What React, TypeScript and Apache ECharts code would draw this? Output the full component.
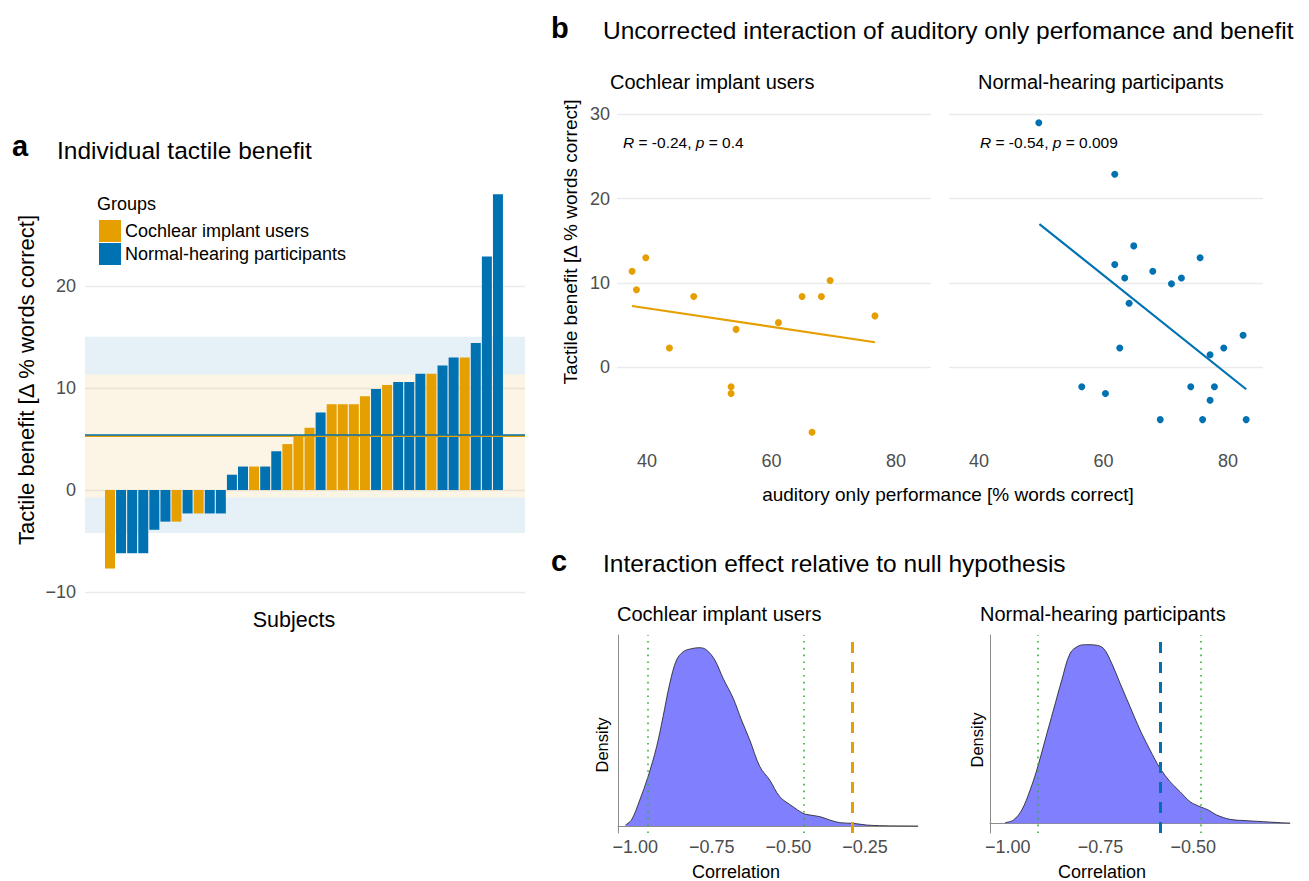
import React, { useEffect, useRef } from 'react';
import * as echarts from 'echarts';

const CI_COLOR = '#E69F00';
const NH_COLOR = '#0072B2';
const FONT = '"Liberation Sans", Arial, Helvetica, sans-serif';
const TICK_COLOR = '#4d4d4d';

const groupNames = ['Cochlear implant users', 'Normal-hearing participants'];

// Panel a: individual tactile benefit (sorted)
const barValues = [-7.7, -6.2, -6.2, -6.2, -3.9, -3.1, -3.1, -2.3, -2.3, -2.3, -2.3, 1.5, 2.3, 2.3, 2.3, 3.8, 4.5, 5.3, 6.1, 7.6, 8.4, 8.4, 8.4, 9.2, 9.9, 10.3, 10.6, 10.6, 11.4, 11.4, 12.2, 13.0, 13.0, 14.4, 22.9, 29.0];
const barGroups = ['CI', 'NH', 'NH', 'NH', 'NH', 'NH', 'CI', 'NH', 'CI', 'NH', 'NH', 'NH', 'NH', 'CI', 'NH', 'NH', 'CI', 'CI', 'CI', 'NH', 'CI', 'CI', 'CI', 'CI', 'NH', 'CI', 'NH', 'NH', 'NH', 'CI', 'NH', 'NH', 'CI', 'NH', 'NH', 'NH'];
const aTicks = [-10, 0, 10, 20];

// Panel b: auditory-only performance vs benefit
const ciAud = [37.6, 38.3, 39.8, 47.5, 43.6, 53.5, 53.5, 54.3, 61.1, 64.9, 68.0, 69.4, 66.5, 76.6];
const ciBen = [11.4, 9.2, 13.0, 8.4, 2.3, -2.3, -3.1, 4.5, 5.3, 8.4, 8.4, 10.3, -7.7, 6.1];
const nhAud = [49.6, 61.8, 64.85, 61.8, 63.4, 64.1, 67.9, 70.9, 72.5, 75.5, 62.6, 77.1, 79.3, 82.4, 56.5, 60.3, 74.0, 77.8, 77.1, 69.1, 75.9, 82.9];
const nhBen = [29.0, 22.9, 14.4, 12.2, 10.6, 7.6, 11.4, 9.9, 10.6, 13.0, 2.3, 1.5, 2.3, 3.8, -2.3, -3.1, -2.3, -2.3, -3.9, -6.2, -6.2, -6.2];
const ciFitX = [37.6, 76.6];
const ciFitY = [7.27, 2.97];
const nhFitX = [49.7, 82.9];
const nhFitY = [16.99, -2.6];
const ciStatText = ['-0.24', '0.4'];
const nhStatText = ['-0.54', '0.009'];
const bTicks = [0, 10, 20, 30];
const bXTicks = [40, 60, 80];

// Panel c: null distributions of correlation
const ciDensX = [-1.0315, -1.012, -0.985, -0.958, -0.930, -0.909, -0.887, -0.865, -0.843, -0.816, -0.789, -0.767, -0.740, -0.713, -0.680, -0.653, -0.626, -0.593, -0.561, -0.528, -0.485, -0.452, -0.430, -0.397, -0.365, -0.332, -0.289, -0.245, -0.202, -0.077];
const ciDensY = [0.03, 0.18, 0.78, 1.48, 2.38, 3.28, 4.28, 4.98, 5.23, 5.32, 5.35, 5.28, 4.98, 4.43, 3.83, 3.18, 2.58, 1.78, 1.38, 0.88, 0.58, 0.38, 0.33, 0.28, 0.18, 0.10, 0.08, 0.03, 0.01, 0.0];
const nhDensX = [-1.0072, -0.9847, -0.9623, -0.9398, -0.9218, -0.8994, -0.8769, -0.8544, -0.8320, -0.8095, -0.7871, -0.7646, -0.7421, -0.7197, -0.6972, -0.6703, -0.6433, -0.6164, -0.5894, -0.5624, -0.5355, -0.5085, -0.4816, -0.4591, -0.4367, -0.4007, -0.3558, -0.3109, -0.2659, -0.2390];
const nhDensY = [0.02, 0.10, 0.40, 1.00, 1.60, 2.50, 3.40, 4.30, 5.10, 5.32, 5.36, 5.35, 5.25, 4.80, 4.20, 3.50, 2.80, 2.20, 1.65, 1.25, 0.95, 0.65, 0.50, 0.40, 0.25, 0.12, 0.08, 0.05, 0.02, 0.01];
const ciCI = [-0.956, -0.451];
const nhCI = [-0.924, -0.483];
const ciObserved = -0.295;
const nhObserved = -0.587;
const ciCTicks = [-1, -0.75, -0.5, -0.25];
const nhCTicks = [-1, -0.75, -0.5];

const mean = (a: number[]) => a.reduce((s, v) => s + v, 0) / a.length;
const sd = (a: number[]) => {
  const m = mean(a);
  return Math.sqrt(a.reduce((s, v) => s + (v - m) * (v - m), 0) / (a.length - 1));
};

const minusFmt = (d: number) => (v: number) => (v < 0 ? '\u2212' + Math.abs(v).toFixed(d) : v.toFixed(d));

function txt(x: number, y: number, text: string, size: number, opts: any = {}) {
  return {
    type: 'text',
    x,
    y,
    rotation: opts.rotation || 0,
    style: {
      text,
      fontSize: size,
      fontFamily: FONT,
      fontWeight: opts.bold ? 'bold' : 'normal',
      fill: opts.fill || '#000',
      align: opts.align || 'left',
      verticalAlign: 'middle',
    },
  };
}

function statText(x: number, y: number, vals: string[]) {
  const base = { fontSize: 15.5, fontFamily: FONT, fill: '#000' };
  return {
    type: 'text',
    x,
    y,
    style: {
      text: `{i|R}{n| = ${vals[0]}, }{i|p}{n| = ${vals[1]}}`,
      verticalAlign: 'middle',
      align: 'left',
      ...base,
      rich: { i: { ...base, fontStyle: 'italic' }, n: { ...base } },
    },
  };
}

export default function App() {
  const ref = useRef<HTMLDivElement>(null);
  useEffect(() => {
    const chart = echarts.init(ref.current!, null, { renderer: 'svg' });

    const ciVals = barValues.filter((_, i) => barGroups[i] === 'CI');
    const nhVals = barValues.filter((_, i) => barGroups[i] === 'NH');
    const ciM = mean(ciVals), ciS = sd(ciVals);
    const nhM = mean(nhVals), nhS = sd(nhVals);
    const blueBand = 'rgba(0,114,178,0.1)';
    const orangeBand = 'rgba(230,159,0,0.1)';

    const bLabel = { fontSize: 18, color: TICK_COLOR, fontFamily: FONT };
    const gridLine = { show: true, lineStyle: { color: '#ebebeb', width: 1.4 } };

    const greenLine = { color: '#2fb32f', width: 1.6, type: [1.6, 5.2] };

    const densSeries = (xi: number, xs: number[], ys: number[], ci: number[], obs: number, obsColor: string) => ({
      type: 'line',
      xAxisIndex: xi,
      yAxisIndex: xi,
      data: xs.map((x, i) => [x, ys[i]]),
      smooth: 0.35,
      showSymbol: false,
      symbol: 'none',
      lineStyle: { color: '#1a1a1a', width: 0.8 },
      areaStyle: { color: '#8080ff', opacity: 1 },
      markLine: {
        silent: true,
        symbol: ['none', 'none'],
        label: { show: false },
        data: [
          { xAxis: ci[0], lineStyle: greenLine },
          { xAxis: ci[1], lineStyle: greenLine },
          { xAxis: obs, lineStyle: { color: obsColor, width: 3, type: [11, 9] } },
        ],
      },
    });

    const option: any = {
      animation: false,
      textStyle: { fontFamily: FONT },
      grid: [
        { left: 85, width: 440, top: 184, height: 408 },
        { left: 617, width: 314, top: 107.6, height: 337.3 },
        { left: 949, width: 314, top: 107.6, height: 337.3 },
        { left: 618, width: 300, top: 635, height: 198 },
        { left: 990, width: 300, top: 635, height: 198 },
      ],
      xAxis: [
        { gridIndex: 0, type: 'value', min: -1.255, max: 38.44, show: false },
        {
          gridIndex: 1, type: 'value', min: 35.18, max: 85.6,
          axisLine: { show: false }, axisTick: { show: false, customValues: bXTicks }, splitLine: { show: false },
          axisLabel: { ...bLabel, margin: 7, customValues: bXTicks },
        },
        {
          gridIndex: 2, type: 'value', min: 35.18, max: 85.6,
          axisLine: { show: false }, axisTick: { show: false, customValues: bXTicks }, splitLine: { show: false },
          axisLabel: { ...bLabel, margin: 7, customValues: bXTicks },
        },
        {
          gridIndex: 3, type: 'value', min: -1.056, max: -0.077,
          axisLine: { show: true, onZero: true, lineStyle: { color: '#8c8c8c', width: 1 } },
          axisTick: { show: false, customValues: ciCTicks }, splitLine: { show: false },
          axisLabel: { ...bLabel, margin: 5, customValues: ciCTicks, formatter: minusFmt(2) },
        },
        {
          gridIndex: 4, type: 'value', min: -1.048, max: -0.239,
          axisLine: { show: true, onZero: true, lineStyle: { color: '#8c8c8c', width: 1 } },
          axisTick: { show: false, customValues: nhCTicks }, splitLine: { show: false },
          axisLabel: { ...bLabel, margin: 5, customValues: nhCTicks, formatter: minusFmt(2) },
        },
      ],
      yAxis: [
        {
          gridIndex: 0, type: 'value', min: -10, max: 30,
          axisLine: { show: false }, axisTick: { show: false, customValues: aTicks },
          axisLabel: { ...bLabel, margin: 9, customValues: aTicks, formatter: minusFmt(0) },
          splitLine: gridLine,
        },
        {
          gridIndex: 1, type: 'value', min: -9.2, max: 30.8,
          axisLine: { show: false }, axisTick: { show: false, customValues: bTicks },
          axisLabel: { ...bLabel, margin: 7, customValues: bTicks },
          splitLine: gridLine,
        },
        {
          gridIndex: 2, type: 'value', min: -9.2, max: 30.8,
          axisLine: { show: false }, axisTick: { show: false, customValues: bTicks },
          axisLabel: { show: false, customValues: bTicks },
          splitLine: gridLine,
        },
        {
          gridIndex: 3, type: 'value', min: -0.21, max: 5.73,
          axisLine: { show: true, lineStyle: { color: '#8c8c8c', width: 1 } },
          axisTick: { show: false }, axisLabel: { show: false }, splitLine: { show: false },
        },
        {
          gridIndex: 4, type: 'value', min: -0.29, max: 5.65,
          axisLine: { show: true, lineStyle: { color: '#8c8c8c', width: 1 } },
          axisTick: { show: false }, axisLabel: { show: false }, splitLine: { show: false },
        },
      ],
      series: [
        {
          type: 'bar',
          xAxisIndex: 0,
          yAxisIndex: 0,
          barWidth: 10,
          data: barValues.map((v, i) => ({
            value: [i + 1, v],
            itemStyle: { color: barGroups[i] === 'CI' ? CI_COLOR : NH_COLOR },
          })),
          markArea: {
            silent: true,
            data: [
              [{ yAxis: nhM - nhS, itemStyle: { color: blueBand } }, { yAxis: ciM - ciS }],
              [{ yAxis: ciM + ciS, itemStyle: { color: blueBand } }, { yAxis: nhM + nhS }],
              [{ yAxis: ciM - ciS, itemStyle: { color: orangeBand } }, { yAxis: ciM + ciS }],
            ],
          },
          markLine: {
            silent: true,
            symbol: ['none', 'none'],
            label: { show: false },
            data: [
              { yAxis: ciM, lineStyle: { color: CI_COLOR, width: 1.8, type: 'solid' } },
              { yAxis: nhM, lineStyle: { color: NH_COLOR, width: 1.6, type: 'solid' } },
            ],
          },
        },
        {
          type: 'scatter', xAxisIndex: 1, yAxisIndex: 1, symbolSize: 7,
          itemStyle: { color: CI_COLOR, opacity: 1 },
          data: ciAud.map((x, i) => [x, ciBen[i]]),
        },
        {
          type: 'line', xAxisIndex: 1, yAxisIndex: 1, showSymbol: false, symbol: 'none',
          lineStyle: { color: CI_COLOR, width: 2.2 },
          data: ciFitX.map((x, i) => [x, ciFitY[i]]),
        },
        {
          type: 'scatter', xAxisIndex: 2, yAxisIndex: 2, symbolSize: 7,
          itemStyle: { color: NH_COLOR, opacity: 1 },
          data: nhAud.map((x, i) => [x, nhBen[i]]),
        },
        {
          type: 'line', xAxisIndex: 2, yAxisIndex: 2, showSymbol: false, symbol: 'none',
          lineStyle: { color: NH_COLOR, width: 2.2 },
          data: nhFitX.map((x, i) => [x, nhFitY[i]]),
        },
        densSeries(3, ciDensX, ciDensY, ciCI, ciObserved, CI_COLOR),
        densSeries(4, nhDensX, nhDensY, nhCI, nhObserved, NH_COLOR),
      ],
      graphic: [
        // Panel a
        txt(12, 146, 'a', 29, { bold: true }),
        txt(57, 150, 'Individual tactile benefit', 24.5),
        txt(97, 204, 'Groups', 18),
        { type: 'rect', shape: { x: 99, y: 220, width: 22, height: 22 }, style: { fill: CI_COLOR } },
        { type: 'rect', shape: { x: 99, y: 243, width: 22, height: 22 }, style: { fill: NH_COLOR } },
        txt(125, 231, groupNames[0], 18),
        txt(125, 254, groupNames[1], 18),
        txt(26, 380, 'Tactile benefit [\u0394 % words correct]', 22, { rotation: Math.PI / 2, align: 'center' }),
        txt(294, 620, 'Subjects', 21.5, { align: 'center' }),
        // Panel b
        txt(551, 28, 'b', 29, { bold: true }),
        txt(603, 30, 'Uncorrected interaction of auditory only perfomance and benefit', 24.5),
        txt(610, 82, groupNames[0], 20),
        txt(978, 82, groupNames[1], 20),
        statText(623, 142, ciStatText),
        statText(980, 142, nhStatText),
        txt(570, 242, 'Tactile benefit [\u0394 % words correct]', 19, { rotation: Math.PI / 2, align: 'center' }),
        txt(948, 494, 'auditory only performance [% words correct]', 19, { align: 'center' }),
        // Panel c
        txt(551, 561, 'c', 29, { bold: true }),
        txt(603, 563, 'Interaction effect relative to null hypothesis', 24.5),
        txt(617, 614, groupNames[0], 20),
        txt(980, 614, groupNames[1], 20),
        txt(602, 745, 'Density', 16.5, { rotation: Math.PI / 2, align: 'center' }),
        txt(977, 740, 'Density', 16.5, { rotation: Math.PI / 2, align: 'center' }),
        txt(736, 872, 'Correlation', 18, { align: 'center' }),
        txt(1102, 872, 'Correlation', 18, { align: 'center' }),
      ],
    };

    chart.setOption(option);
    return () => chart.dispose();
  }, []);

  return (
    <div
      ref={ref}
      style={{ position: 'absolute', left: 0, top: 0, width: 1309, height: 881, background: '#fff' }}
    />
  );
}
